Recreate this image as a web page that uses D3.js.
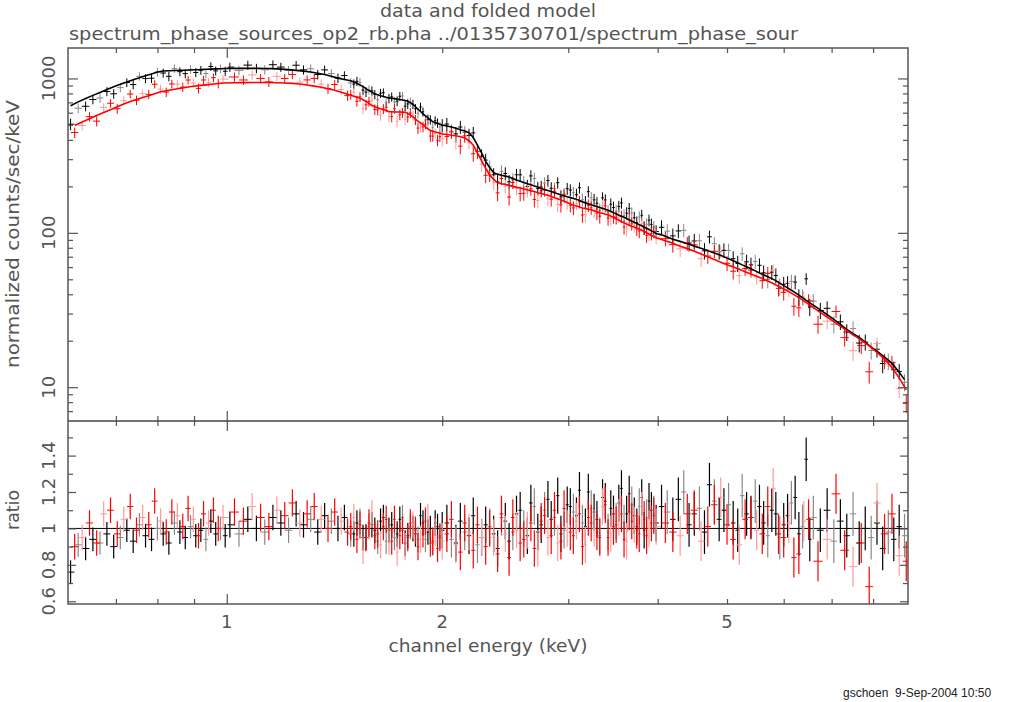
<!DOCTYPE html>
<html>
<head>
<meta charset="utf-8">
<script src="https://cdn.jsdelivr.net/npm/d3@7"></script>
<style>
  body { margin: 0; background: #fff; }
  text { font-family: "DejaVu Sans", sans-serif; fill: #555; }
</style>
</head>
<body>
<div id="chart"></div>
<script>
// data and folded model + ratio ///////////////////////////////////////////////

var width = 1014, height = 702;
var left = 68, right = 908, topY = 48, midY = 421, bottomY = 604;

// energies (keV), folded model (counts/sec/keV) and data/model ratio per bin
var blackEnergy = [0.605,0.62,0.635,0.65,0.665,0.68,0.695,0.71,0.725,0.74,0.755,0.77,0.785,0.8,0.815,0.83,0.845,0.86,0.875,0.89,0.905,0.92,0.935,0.95,0.965,0.98,0.995,
  1.01,1.04,1.07,1.10,1.13,1.16,1.19,1.22,1.25,1.28,1.31,1.34,1.37,1.40,1.43,1.46,1.49,1.52,1.55,1.58,1.61,1.64,1.67,1.70,1.73,1.76,1.79,1.82,1.85,1.88,1.91,1.94,1.97,
  2.00,2.06,2.12,2.18,2.24,2.30,2.36,2.42,2.48,2.54,2.60,2.66,2.72,2.78,2.84,2.90,2.96,3.02,3.08,3.14,3.20,3.26,3.32,3.38,3.44,3.50,3.56,3.62,3.68,3.74,3.80,3.86,3.92,3.98,
  4.05,4.20,4.35,4.50,4.65,4.80,4.95,5.10,5.25,5.40,5.55,5.70,5.85,6.00,6.15,6.30,6.45,6.60,6.75,6.90,7.05,7.20,7.35,7.50,7.65,7.80,7.95,8.10,8.25,8.40,8.55,8.70,8.85];
var blackModel = [665,705,742,777,812,848,884,918,950,982,1012,1040,1068,1100,1118,1122,1126,1129,1131,1134,1138,1142,1146,1150,1154,1157,1160,
  1161,1162,1162,1162,1161,1158,1150,1140,1128,1115,1100,1082,1062,1035,1005,985,965,930,885,835,795,772,755,745,735,726,712,680,632,590,555,525,510,
  500,485,466,445,370,290,245,236,230,220,212,205,198,191,185,179,174,169,165,159,154,150,146,142,138,133,128,124,119,115,111,107,103,99,
  97,91,86.5,82,78,74,70,66,62,58.5,55,52,49,45.5,42.5,39.5,36.5,34,31.7,29.5,27.5,25.5,23.7,22.2,21,19.6,18.2,17.1,16,15,13.8,12.5,11.2];
var blackRatio = [0.76,0.91,0.89,0.94,0.92,0.97,0.90,0.95,0.99,0.93,1.02,0.96,0.94,1.00,0.97,0.92,1.03,0.98,0.95,1.01,0.96,0.99,0.94,1.04,0.97,1.00,0.96,
  1.02,0.97,1.05,1.00,0.98,1.06,1.03,0.99,1.08,1.02,1.05,0.98,1.07,1.04,1.00,1.06,0.97,1.03,0.95,1.01,0.99,1.04,0.93,1.02,0.97,1.06,0.96,1.00,0.94,1.03,0.98,0.92,1.01,
  0.99,0.94,1.04,0.96,0.91,1.02,0.97,1.06,0.93,1.08,1.00,1.14,0.98,1.10,1.05,1.18,0.99,1.12,1.07,1.03,1.20,1.09,0.96,1.15,1.11,1.04,1.22,1.08,1.13,1.01,1.17,1.06,1.10,1.03,
  1.12,1.05,1.20,1.08,0.98,1.15,1.10,1.03,1.18,1.06,1.12,0.96,1.08,1.02,1.14,0.97,1.38,1.06,0.99,1.10,0.93,1.04,0.96,1.08,0.92,1.00,0.95,1.03,0.89,0.98,0.94,1.01,0.96];

// extra black bins between 1.5 and 6.5 keV (finer binning there)
var blackEnergy2 = [1.505,1.535,1.565,1.595,1.625,1.655,1.685,1.715,1.745,1.775,1.805,1.835,1.865,1.895,1.925,1.955,1.985,
  2.03,2.09,2.15,2.21,2.27,2.33,2.39,2.45,2.51,2.57,2.63,2.69,2.75,2.81,2.87,2.93,2.99,3.05,3.11,3.17,3.23,3.29,3.35,3.41,3.47,3.53,3.59,3.65,3.71,3.77,3.83,3.89,3.95,
  4.125,4.275,4.425,4.575,4.725,4.875,5.025,5.175,5.325,5.475,5.625,5.775,5.925,6.075,6.225,6.375,6.525];
var blackModel2 = [948,908,860,815,783,763,750,740,730,719,696,656,611,572,540,517,505,
  492,476,456,415,330,265,240,233,225,216,208,201,194,188,182,176,171,167,162,156,152,148,144,140,135,130,126,121,117,113,109,105,101,
  94,88.7,84.2,80,76,72,68,64,60.2,56.7,53.5,50.5,47.2,44,41,38,35.2];
var blackRatio2 = [0.97,1.04,0.95,1.02,0.93,1.06,0.99,0.95,1.05,0.92,1.01,0.97,1.07,0.94,1.00,1.03,0.96,
  1.03,0.92,0.98,1.07,0.95,1.01,0.89,1.04,0.98,1.10,0.96,1.12,1.02,1.16,1.06,0.97,1.13,1.09,1.21,1.01,1.11,1.05,1.17,0.98,1.08,1.14,1.03,1.19,1.07,1.12,0.99,1.15,1.08,
  1.09,1.16,1.02,1.11,1.24,1.05,1.13,0.99,1.08,1.15,1.03,1.10,0.95,1.07,1.17,1.01,0.94];

var redEnergy = [0.613,0.628,0.643,0.658,0.673,0.688,0.703,0.718,0.733,0.748,0.763,0.778,0.793,0.808,0.823,0.838,0.853,0.868,0.883,0.898,0.913,0.928,0.943,0.958,0.973,0.988,
  1.025,1.055,1.085,1.115,1.145,1.175,1.205,1.235,1.265,1.295,1.325,1.355,1.385,1.415,1.445,1.475,1.505,1.535,1.565,1.595,1.625,1.655,1.685,1.715,1.745,1.775,1.805,1.835,1.865,1.895,1.925,1.955,1.985,
  2.03,2.09,2.15,2.21,2.27,2.33,2.39,2.45,2.51,2.57,2.63,2.69,2.75,2.81,2.87,2.93,2.99,3.05,3.11,3.17,3.23,3.29,3.35,3.41,3.47,3.53,3.59,3.65,3.71,3.77,3.83,3.89,3.95,
  4.1,4.3,4.5,4.7,4.9,5.1,5.3,5.5,5.7,5.9,6.1,6.3,6.5,6.7,6.9,7.1,7.3,7.5,7.7,7.9,8.1,8.3,8.5,8.7,8.9];
var redModel = [496,522,549,575,601,628,656,684,708,730,752,773,797,820,832,845,857,869,880,891,898,905,912,920,927,934,
  938,940,941,942,941,938,934,929,920,906,892,876,858,838,815,790,768,745,710,668,645,628,610,606,606,604,580,545,515,485,460,450,442,
  433,425,412,370,292,237,211,206,200,195,190,185,180,175,169,163,157,151,147,144,141,137,134,131,126,121,116,112,109,106,102,98,95,
  89,82,76,70,64.5,60,56,52.3,48.8,45,41.6,38,34.5,31.2,28.5,26,23.8,21.8,20.2,18.5,16.8,15.2,13.4,11.5,9.6];
var redRatio = [0.90,0.95,1.03,0.92,1.08,1.10,0.97,1.05,1.12,0.99,1.06,1.02,1.15,1.04,0.98,1.09,1.07,1.01,1.11,1.05,0.96,1.08,1.03,1.10,1.00,1.06,
  1.09,1.04,1.12,1.06,1.01,1.10,1.07,1.14,1.03,1.08,1.12,1.05,1.00,1.09,1.04,0.98,1.06,1.02,0.95,1.08,0.97,1.01,0.93,1.05,0.96,0.90,1.03,0.99,0.94,1.04,0.92,0.98,0.95,
  0.97,0.91,1.03,0.88,0.95,1.00,0.86,0.97,1.06,0.92,0.99,0.89,1.04,0.95,1.10,0.93,1.00,0.96,1.08,0.91,1.03,0.98,1.12,0.95,1.01,1.06,0.94,1.09,1.02,0.97,1.05,1.00,1.07,
  1.03,0.96,1.10,1.01,1.17,0.94,1.05,0.99,1.12,0.97,1.03,0.86,1.05,0.82,0.94,1.19,0.88,0.79,0.92,0.68,1.14,0.97,1.08,0.85,0.82];

// extra red bins between 1.5 and 6.5 keV
var redEnergy2 = [1.49,1.52,1.55,1.58,1.61,1.64,1.67,1.70,1.73,1.76,1.79,1.82,1.85,1.88,1.91,1.94,1.97,
  2.00,2.06,2.12,2.18,2.24,2.30,2.36,2.42,2.48,2.54,2.60,2.66,2.72,2.78,2.84,2.90,2.96,3.02,3.08,3.14,3.20,3.26,3.32,3.38,3.44,3.50,3.56,3.62,3.68,3.74,3.80,3.86,3.92,3.98,
  4.2,4.4,4.6,4.8,5.0,5.2,5.4,5.6,5.8,6.0,6.2,6.4];
var redModel2 = [779,757,728,689,656,636,619,608,606,605,592,563,530,500,472,455,446,
  437,429,419,395,330,262,222,208,203,197,192,187,182,177,172,166,160,154,149,145,142,139,135,132,128,123,118,114,110,107,104,100,96,93,
  85.5,79,73,67.2,62.2,58,54.1,50.5,46.9,43.3,39.8,36.2];
var redRatio2 = [1.01,0.94,0.88,1.03,0.96,0.91,1.05,0.93,0.87,0.99,0.95,1.02,0.90,0.97,1.06,0.93,0.89,
  0.93,1.05,0.87,0.98,1.02,0.90,0.95,1.08,0.84,0.99,0.94,1.03,0.89,1.07,0.96,0.92,1.11,0.98,1.04,0.90,1.06,1.00,0.95,1.13,0.97,1.02,1.08,0.93,1.04,0.99,1.10,0.96,1.03,1.01,
  0.98,1.08,0.93,1.13,1.02,0.91,1.06,0.97,1.22,0.95,0.84,1.04];

// 1-sigma error on the ratio, by energy band (<1, 1-2, 2-4, >4 keV)
var errBandEdges = [1, 2, 4];
var blackErr = [0.065, 0.07, 0.1, 0.12];
var redErr = [0.07, 0.075, 0.1, 0.11];

var xLabels = [1, 2, 5];
var yTopLabels = [10, 100, 1000];
var yRatioLabels = [0.6, 0.8, 1, 1.2, 1.4];

///////////////////////////////////////////////////////////////////////////////

var svg = d3.select('#chart').append('svg')
  .attr('width', width)
  .attr('height', height);

var x = d3.scaleLog().domain([0.6, 8.95]).range([left, right]);
var yTop = d3.scaleLog().domain([6.04, 1575]).range([midY, topY]);
var yRat = d3.scaleLinear().domain([0.585, 1.59]).range([bottomY, midY]);

var series = [
  {color: '#000', light: '#888', err: blackErr,
    energy: blackEnergy.concat(blackEnergy2), model: blackModel.concat(blackModel2), ratio: blackRatio.concat(blackRatio2)},
  {color: '#f00', light: '#f99', err: redErr,
    energy: redEnergy.concat(redEnergy2), model: redModel.concat(redModel2), ratio: redRatio.concat(redRatio2)}
];

series.forEach(function(s) {
  var n = Math.min(s.energy.length, s.model.length, s.ratio.length);
  var bins = d3.range(n).map(function(i) {
    return {e: s.energy[i], m: s.model[i], r: s.ratio[i]};
  }).sort(function(a, b) { return a.e - b.e; });
  bins.forEach(function(d, i) {
    var prev = bins[i - 1], next = bins[i + 1];
    d.lo = prev ? Math.sqrt(prev.e * d.e) : d.e * d.e / Math.sqrt(d.e * next.e);
    d.hi = next ? Math.sqrt(next.e * d.e) : d.e * d.e / Math.sqrt(d.e * prev.e);
    d.err = s.err[d3.bisectRight(errBandEdges, d.e)];
    d.i = i;
  });
  s.points = bins;
});

var defs = svg.append('defs');
defs.append('clipPath').attr('id', 'clipTop').append('rect')
  .attr('x', left).attr('y', topY).attr('width', right - left).attr('height', midY - topY);
defs.append('clipPath').attr('id', 'clipRat').append('rect')
  .attr('x', left).attr('y', midY).attr('width', right - left).attr('height', bottomY - midY);

var gTop = svg.append('g').attr('clip-path', 'url(#clipTop)');
var gRat = svg.append('g').attr('clip-path', 'url(#clipRat)');

// ratio = 1 reference
gRat.append('line')
  .attr('x1', left).attr('x2', right)
  .attr('y1', yRat(1)).attr('y2', yRat(1))
  .style('stroke', '#000')
  .style('stroke-width', 1);

function barColor(s) {
  return function(d) { return d.i % 3 === 1 ? s.light : s.color; };
}

function errorBars(g, s, yv, ylo, yhi, w) {
  var gg = g.append('g');
  gg.selectAll('line.v').data(s.points).enter().append('line')
    .attr('class', 'v')
    .attr('x1', function(d) { return x(d.e); })
    .attr('x2', function(d) { return x(d.e); })
    .attr('y1', ylo)
    .attr('y2', yhi)
    .style('stroke', barColor(s))
    .style('stroke-width', w);
  gg.selectAll('line.h').data(s.points).enter().append('line')
    .attr('class', 'h')
    .attr('x1', function(d) { return x(d.lo); })
    .attr('x2', function(d) { return x(d.hi); })
    .attr('y1', yv)
    .attr('y2', yv)
    .style('stroke', barColor(s))
    .style('stroke-width', 1);
}

series.forEach(function(s) {
  errorBars(gTop, s,
    function(d) { return yTop(d.m * d.r); },
    function(d) { return yTop(d.m * (d.r - d.err)); },
    function(d) { return yTop(d.m * (d.r + d.err)); }, 1);
  errorBars(gRat, s,
    function(d) { return yRat(d.r); },
    function(d) { return yRat(d.r - d.err); },
    function(d) { return yRat(d.r + d.err); }, 1.2);
});

// folded models
series.forEach(function(s) {
  gTop.append('path')
    .datum(s.points)
    .attr('d', d3.line()
      .x(function(d) { return x(d.e); })
      .y(function(d) { return yTop(d.m); }))
    .style('fill', 'none')
    .style('stroke', s.color)
    .style('stroke-width', 1.6);
});

// frames and ticks ///////////////////////////////////////////////////////////

var xMinor = [0.7, 0.8, 0.9, 2, 3, 4, 5, 6, 7, 8];
var yTopMinor = [];
[1, 10, 100, 1000].forEach(function(p) {
  d3.range(2, 10).forEach(function(k) {
    var v = p * k;
    if (v > 6.04 && v < 1575) yTopMinor.push(v);
  });
});
var yRatMinor = [0.7, 0.9, 1.1, 1.3, 1.5];

function ticks(axis, scale, values, size, tx, ty) {
  var g = svg.append('g')
    .attr('transform', 'translate(' + tx + ',' + ty + ')')
    .call(axis(scale).tickValues(values).tickSize(size).tickFormat(''));
  g.select('.domain').remove();
  g.selectAll('line').style('stroke', '#555').style('stroke-width', 1.2);
}

// x ticks on both panels, pointing inward
[[topY, d3.axisBottom], [midY, d3.axisTop], [midY, d3.axisBottom], [bottomY, d3.axisTop]].forEach(function(t) {
  ticks(t[1], x, xMinor, 5, 0, t[0]);
  ticks(t[1], x, [1], 10, 0, t[0]);
});
[[left, d3.axisRight], [right, d3.axisLeft]].forEach(function(t) {
  ticks(t[1], yTop, yTopMinor, 5, t[0], 0);
  ticks(t[1], yTop, yTopLabels, 10, t[0], 0);
  ticks(t[1], yRat, yRatMinor, 5, t[0], 0);
  ticks(t[1], yRat, yRatioLabels, 8, t[0], 0);
});

svg.append('rect')
  .attr('x', left).attr('y', topY)
  .attr('width', right - left).attr('height', bottomY - topY)
  .style('fill', 'none')
  .style('stroke', '#555')
  .style('stroke-width', 1.5);
svg.append('line')
  .attr('x1', left).attr('x2', right)
  .attr('y1', midY).attr('y2', midY)
  .style('stroke', '#444')
  .style('stroke-width', 1.5);

// labels /////////////////////////////////////////////////////////////////////

svg.append('g').selectAll('text')
  .data(xLabels)
  .enter().append('text')
  .attr('x', function(d) { return x(d); })
  .attr('y', 628)
  .attr('text-anchor', 'middle')
  .style('font-size', '18px')
  .text(function(d) { return d; });

function yLabel(scale, values) {
  svg.append('g').selectAll('text')
    .data(values)
    .enter().append('text')
    .attr('transform', function(d) { return 'translate(55,' + scale(d) + ') rotate(-90)'; })
    .attr('text-anchor', 'middle')
    .style('font-size', '18px')
    .text(function(d) { return d; });
}
yLabel(yTop, yTopLabels);
yLabel(yRat, yRatioLabels);

svg.append('text')
  .attr('x', 488).attr('y', 17)
  .attr('text-anchor', 'middle')
  .attr('textLength', 216).attr('lengthAdjust', 'spacingAndGlyphs')
  .style('font-size', '17px')
  .text('data and folded model');

svg.append('text')
  .attr('x', 69).attr('y', 40)
  .attr('textLength', 729).attr('lengthAdjust', 'spacingAndGlyphs')
  .style('font-size', '17px')
  .text('spectrum_phase_sources_op2_rb.pha ../0135730701/spectrum_phase_sour');

svg.append('text')
  .attr('x', 488).attr('y', 652)
  .attr('text-anchor', 'middle')
  .attr('textLength', 199).attr('lengthAdjust', 'spacingAndGlyphs')
  .style('font-size', '17px')
  .text('channel energy (keV)');

svg.append('text')
  .attr('transform', 'translate(19,234) rotate(-90)')
  .attr('text-anchor', 'middle')
  .attr('textLength', 268).attr('lengthAdjust', 'spacingAndGlyphs')
  .style('font-size', '17px')
  .text('normalized counts/sec/keV');

svg.append('text')
  .attr('transform', 'translate(19,510) rotate(-90)')
  .attr('text-anchor', 'middle')
  .attr('textLength', 40).attr('lengthAdjust', 'spacingAndGlyphs')
  .style('font-size', '17px')
  .text('ratio');

svg.append('text')
  .attr('x', 843).attr('y', 697)
  .style('font-size', '12px')
  .style('fill', '#222')
  .style('white-space', 'pre')
  .style('font-family', '"Liberation Sans", sans-serif')
  .text('gschoen  9-Sep-2004 10:50');
</script>
</body>
</html>
